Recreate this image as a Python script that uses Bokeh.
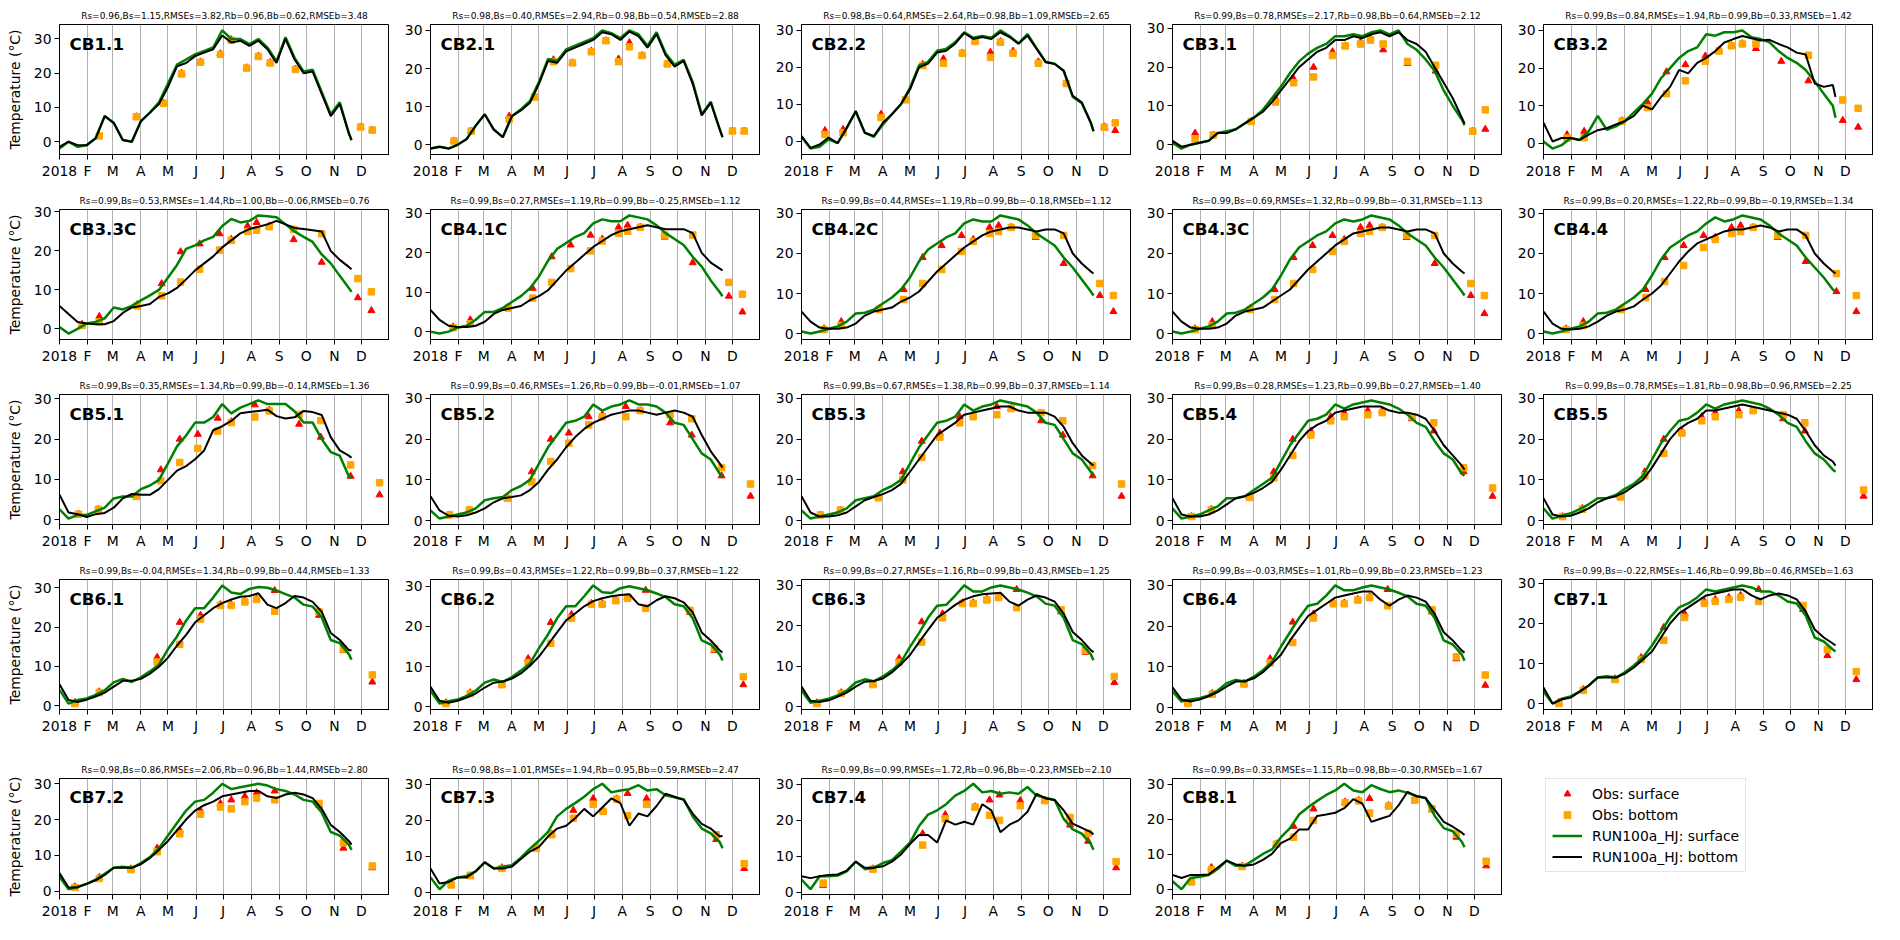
import math
from bokeh.plotting import figure
from bokeh.layouts import column, row
from bokeh.models import FixedTicker, Label, Legend, LegendItem, ColumnDataSource, Range1d, AllLabels
from bokeh.embed import file_html
from bokeh.resources import INLINE

nan = float("nan")

# model output sampled every 10 days (day of year, 0 = 1 Jan 2018)
DAYS = list(range(0, 330, 10)) + [323]
MONTH_STARTS = [0, 31, 59, 90, 120, 151, 181, 212, 243, 273, 304, 334]
MONTH_LABELS = ["2018", "F", "M", "A", "M", "J", "J", "A", "S", "O", "N", "D"]

CB1_1_SURF = [-2, 0, -1.5, -1, 1, 7.5, 5.5, 0.5, 0, 6, 8.5, 11.5, 17, 22.5, 24, 25.5, 26.5, 27.5, 32.5, 30, 30, 28.5, 30, 27.5, 23.5, 30.5, 24.5, 20.5, 21, 14.5, 8, 11.5, 2.5, 0.5]
CB1_1_BOT = [-1.5, 0, -1, -1, 1, 7.5, 5.5, 0.5, 0, 6, 8.5, 11, 16, 22, 23, 25, 26, 27, 31, 29, 29.5, 28, 29.5, 27, 23, 30, 24, 20, 20.5, 14, 7.5, 11, 2.5, 0.5]
CB1_1_OBS_DAYS = [44, 85, 115, 135, 156, 178, 190, 207, 220, 233, 261, 333, 346]
CB1_1_OBS_SURF = [1.7, 7.3, 11.3, 20, 23.3, 25.7, 29.8, 21.6, 25, 23.2, 21.2, 4.3, 3.4]
CB1_1_OBS_BOT = [1.7, 7.3, 11.2, 19.8, 23.2, 25.5, 29.6, 21.5, 24.9, 23, 21.1, 4.3, 3.4]

CB2_1_SURF = [-1, -0.5, -1, 0, 1.5, 5, 8, 4, 2, 7.5, 9.3, 11.5, 16.5, 22.5, 22, 25, 26, 27, 28, 30, 29.3, 28, 30, 29, 26, 29.5, 24, 21, 22.3, 16.5, 8, 11.3, 4, 2]
CB2_1_BOT = [-1, -0.5, -1, 0, 1.5, 5, 8, 4, 2, 7.5, 9, 11, 16, 22, 21.5, 24.5, 25.5, 26.5, 27.5, 29.5, 29, 27.5, 29.7, 28.5, 25.5, 29, 23.5, 20.5, 22, 16, 7.7, 11, 4, 2]
CB2_1_OBS_DAYS = [26, 45, 87, 115, 136, 157, 178, 194, 208, 220, 234, 262, 334, 347]
CB2_1_OBS_SURF = [1, 3.6, 7.5, 12.5, 22.3, 21.5, 24.6, 27.3, 22.5, 26.8, 23.4, 21.2, 3.6, 3.6]
CB2_1_OBS_BOT = [1, 3.6, 6.6, 12.5, 21.8, 21.5, 24.4, 27.3, 21.8, 25.7, 23.4, 21.2, 3.6, 3.6]

CB2_2_SURF = [1.2, -2, -1.5, 0.5, -0.5, 3.6, 8, 2.3, 1.2, 4.5, 7.3, 10, 14.5, 20.5, 21.5, 24.5, 25, 26.8, 29.5, 28, 28.5, 28, 30, 28.5, 26.5, 29, 25.2, 21.5, 21, 19, 12, 10.3, 5, 2.7]
CB2_2_BOT = [1.4, -1.8, -0.9, 1, -0.5, 3.6, 8.2, 2.3, 1.4, 5, 7.3, 10, 14, 20, 21, 24, 24.5, 26.4, 29.3, 27.7, 28.2, 27.7, 29.5, 28.2, 26.4, 28.6, 25, 21.4, 20.9, 19.1, 12.3, 10.5, 5, 2.7]
CB2_2_OBS_DAYS = [26, 46, 88, 115, 134, 157, 178, 192, 209, 220, 234, 262, 293, 335, 347]
CB2_2_OBS_SURF = [2.9, 3.2, 7.3, 11.4, 20.8, 22.3, 23.9, 27.1, 24.1, 27, 24.4, 21.5, 15.8, 3.9, 2.9]
CB2_2_OBS_BOT = [1.8, 2.3, 6.4, 11.2, 20.5, 21.1, 23.8, 27, 22.7, 26.8, 23.8, 21.1, 15.6, 3.8, 5]

CB3_1_SURF = [0.5, -1, 0, 0.5, 1, 3, 3.5, 4, 5.5, 7, 9, 12, 15, 18.5, 21.5, 23.5, 25, 26, 28, 28, 28.5, 28, 29, 29.5, 28.5, 29.5, 26, 24.5, 22, 19, 14, 10, 6.5, 5]
CB3_1_BOT = [1, -0.5, 0, 0.5, 1, 3, 3, 4, 5.5, 7, 8.5, 11, 14, 17, 20, 22, 24, 25, 27, 27, 28, 27.5, 28.5, 29, 28, 29, 27, 26, 24, 20, 16, 12, 7, 5.5]
CB3_1_OBS_DAYS = [25, 45, 87, 114, 134, 156, 177, 191, 208, 219, 233, 260, 291, 332, 346]
CB3_1_OBS_SURF = [3, 2.5, 6, 12, 17, 20, 24, 25.5, 26.5, 27.5, 24.5, 21, 19, 3.5, 4]
CB3_1_OBS_BOT = [1.5, 2.5, 6, 11, 16, 17.5, 23, 25.5, 26, 27, 26, 21.5, 20.5, 3.5, 9]

CB3_2_SURF = [0.5, -1.4, -0.5, 1.4, 0.9, 3.2, 7.3, 3.6, 4.5, 5.9, 8.2, 10.5, 13.2, 17.3, 20, 22.7, 24.5, 25.5, 29, 28.6, 29.5, 29.5, 30, 28.2, 27.7, 26.8, 24.5, 22.7, 21.4, 19.5, 16.4, 13.2, 10, 6.8]
CB3_2_BOT = [5.5, 0.5, 1.4, 1.4, 0.9, 2.3, 3.5, 4, 5, 5.9, 7.3, 10, 9, 12.3, 15, 19.5, 18.6, 21.4, 22.7, 24.5, 26.8, 27.7, 28.5, 27.9, 27.3, 27.5, 26.4, 25.5, 24.1, 23.6, 15.9, 15, 15.5, 12.3]
CB3_2_OBS_DAYS = [26, 45, 87, 115, 136, 157, 179, 194, 208, 220, 235, 263, 293, 331, 348]
CB3_2_OBS_SURF = [2.3, 3.2, 6, 10.9, 19, 20.9, 23.2, 24.7, 26, 26.5, 25.2, 21.8, 16.6, 6.1, 4.3]
CB3_2_OBS_BOT = [1.4, 1.5, 5.9, 9.5, 13.2, 16.6, 21.8, 24.5, 25.9, 26.4, 26.4, nan, 23.4, 11.5, 9.3]

CB3_3C_SURF = [0.5, -1.2, 0, 1.4, 1.8, 2.7, 5.5, 5, 5.9, 7.3, 8.6, 10, 13.2, 16.4, 20.5, 21.4, 22.7, 23.6, 26.4, 28.2, 27.3, 27.7, 29.1, 28.9, 28.6, 26.8, 25, 23.6, 22.3, 19.1, 16.8, 13.6, 10.5, 9.5]
CB3_3C_BOT = [5.9, 3.8, 1.8, 1.4, 1.2, 1.2, 2, 4.1, 5.5, 5.9, 6.4, 8.2, 9.1, 10.5, 12.7, 15, 16.8, 18.6, 20.9, 22.7, 24.5, 25.6, 26.2, 26.8, 27.7, 26.8, 25.9, 25.6, 25.3, 25, 20, 17.7, 15.9, 15.3]
CB3_3C_OBS_DAYS = [25, 44, 86, 113, 134, 155, 177, 190, 208, 218, 232, 259, 290, 330, 345]
CB3_3C_OBS_SURF = [1.2, 3.2, 6.2, 11.6, 19.8, 21.8, 24.4, 23, 26.4, 27.3, 26.4, 22.9, 17.1, 8, 4.7]
CB3_3C_OBS_BOT = [0.9, 1.8, 5.9, 8.5, 12, 15.3, 20.2, 22.7, 25, 25.3, 26.2, 25.5, 24.4, 12.9, 9.5]

CB4_1C_SURF = [0, -0.5, 0, 1, 1.5, 3, 5, 5, 6, 7.5, 9, 11, 14, 18, 21, 22.5, 24, 25, 27.5, 28.5, 28, 28, 29.5, 29, 28.5, 27, 25, 23.5, 22, 19, 16.5, 13, 10, 9]
CB4_1C_BOT = [5.5, 3, 1.5, 1.2, 1.2, 1.5, 2.5, 4.5, 5.5, 6, 6.5, 8, 9, 10.5, 13, 15.5, 17.5, 19.5, 21.5, 23, 24.5, 25.5, 26, 26.5, 27, 26.5, 26, 26, 26, 25, 20, 17.5, 16, 15.5]
CB4_1C_OBS_DAYS = [25, 44, 86, 113, 134, 155, 177, 190, 208, 218, 232, 259, 290, 330, 345]
CB4_1C_OBS_SURF = [1.2, 3, 6.2, 11, 19, 22, 24.5, 23.5, 26.5, 27, 26.5, 24, 17.5, 9, 5]
CB4_1C_OBS_BOT = [1, 2, 6, 8.5, 12.5, 16, 20.5, 23, 25, 25.5, 26.5, 24.5, 24.5, 12.5, 9.5]

CB4_2C_SURF = [0.5, 0, 0.5, 1.2, 1.8, 3, 5, 5.2, 6, 7.5, 9, 11, 14, 18, 21, 22.5, 24, 25, 27.5, 28.5, 28, 28, 29.5, 29, 28.5, 27, 25, 23.5, 22, 19, 16.5, 13.5, 10.5, 9.5]
CB4_2C_BOT = [5.5, 3, 1.5, 1.2, 1.2, 1.5, 2.5, 4.5, 5.5, 6, 6.5, 8, 9, 10.5, 13, 15.5, 17.5, 19.5, 21.5, 23, 24.5, 25.5, 26, 26.5, 26.5, 26, 25.5, 26, 26, 25, 20, 17.5, 15.5, 15]
CB4_2C_OBS_DAYS = [25, 44, 86, 113, 134, 155, 177, 190, 208, 218, 232, 259, 290, 330, 345]
CB4_2C_OBS_SURF = [1.2, 3, 6.2, 11, 19, 22, 24.5, 23.5, 26.5, 27, 26.5, 24, 17.5, 9.5, 5.5]
CB4_2C_OBS_BOT = [1, 2, 6, 8.5, 12.5, 16, 20.5, 23, 25, 25.5, 26.5, 24.5, 24.5, 12.5, 9.5]

CB4_3C_SURF = [0.5, 0, 0.5, 1.2, 1.8, 3, 5, 5.2, 6, 7.5, 9, 11, 14.5, 18.5, 21.5, 23, 24.5, 25.5, 27.5, 28.5, 28, 28.5, 29.5, 29, 28.5, 27, 25, 23.5, 22, 19, 16.5, 13.5, 10.5, 9.5]
CB4_3C_BOT = [5.5, 3, 1.5, 1.2, 1.2, 1.5, 2.5, 4.5, 5.5, 6, 6.5, 8, 9.5, 11, 13.5, 16, 18, 20, 22, 23.5, 25, 25.5, 26, 26.5, 26.5, 26, 25.5, 26, 26, 25, 20, 17.5, 15.5, 15]
CB4_3C_OBS_DAYS = [25, 44, 86, 113, 134, 155, 177, 190, 208, 218, 232, 259, 290, 330, 345]
CB4_3C_OBS_SURF = [1.2, 3, 6.2, 11, 19, 22, 24.5, 23.5, 26.5, 27, 26.5, 24, 17.5, 9.5, 5]
CB4_3C_OBS_BOT = [1, 2, 6, 8.5, 12.5, 16, 20.5, 23, 25, 25.5, 26.5, 24.5, 24.5, 12.5, 9.5]

CB4_4_SURF = [0.5, 0, 0.5, 1.2, 1.8, 3, 5, 5.2, 6, 7.5, 9, 11, 14.5, 18.5, 21.5, 23, 24.5, 25.5, 27.5, 29, 28, 28.5, 29.5, 29, 28.5, 27, 25, 23.5, 22, 19, 16.5, 14, 11, 10.5]
CB4_4_BOT = [5.5, 2.5, 1.2, 1, 1.2, 1.8, 3, 4.5, 5.5, 6, 6.8, 8.5, 10, 12, 15, 18, 20.5, 22.5, 23.5, 24.5, 25.5, 26, 26, 26.5, 27, 26.5, 25.5, 26, 26, 24.5, 20, 17.5, 15.5, 15]
CB4_4_OBS_DAYS = [25, 44, 86, 113, 134, 155, 177, 190, 208, 218, 232, 259, 290, 324, 346]
CB4_4_OBS_SURF = [1.2, 3, 6.2, 11, 19, 22, 24.5, 24, 26.5, 27, 26.5, 24, 18, 10.5, 5.5]
CB4_4_OBS_BOT = [1, 2, 6, 9, 13, 17, 21.5, 23.5, 25, 25.5, 26.5, 24.5, 24.5, 15, 9.5]

CB5_1_SURF = [2.6, 0.3, 1.2, 1.2, 2.1, 3, 5.3, 5.8, 5.8, 7.6, 8.5, 9.9, 14, 18.2, 20.9, 24.1, 24.1, 25.5, 28.7, 26.4, 27.8, 28.7, 29.6, 28.7, 28.7, 28.7, 26.9, 24.1, 24.1, 20, 16.8, 15.9, 10.8, 10.4]
CB5_1_BOT = [6.2, 1.8, 1.4, 0.7, 1.4, 1.7, 3, 5.3, 6.4, 6.2, 6.2, 7.6, 9.9, 12.2, 13.3, 15, 17.2, 22.2, 23.2, 24.5, 26.4, 26.7, 27, 27.3, 25.7, 25.1, 25.4, 27, 26.7, 26, 20.5, 17.2, 15.9, 15.4]
CB5_1_OBS_DAYS = [21, 43, 85, 112, 133, 153, 175, 190, 216, 232, 265, 289, 322, 354]
CB5_1_OBS_SURF = [1.4, 2.6, 5.9, 12.4, 20, 21.2, 25.2, 24.3, 28.5, 27.2, 23.7, 20.5, 10.8, 6.2]
CB5_1_OBS_BOT = [1.4, 2.6, 5.8, 9.7, 14.2, 17.7, 22, 24.1, 25.5, 27, 26.1, 24.6, 13.6, 9.2]

CB5_2_SURF = [2.5, 0.5, 1, 1.5, 2, 3, 5, 5.5, 5.8, 7.5, 8.5, 10, 14, 18, 21, 24, 24.5, 25.5, 28.5, 27, 28, 28.5, 29.5, 28.5, 28.5, 28, 26.5, 24, 23.5, 20, 16.5, 15, 11.5, 10.5]
CB5_2_BOT = [6, 2.5, 1.2, 1, 1.3, 2, 3, 4.5, 5.5, 5.8, 6.2, 7.5, 9.5, 12.5, 15, 18, 20.5, 22.5, 24, 25, 26, 26.5, 27, 27, 26.5, 26, 26.5, 27, 26.5, 25.5, 21, 17, 14, 13]
CB5_2_OBS_DAYS = [21, 43, 85, 112, 133, 153, 175, 190, 216, 232, 265, 289, 322, 354]
CB5_2_OBS_SURF = [1.4, 2.6, 5.6, 12, 20, 21.5, 25.5, 26, 28, 27, 24, 21, 11, 6]
CB5_2_OBS_BOT = [1.4, 2.6, 5.5, 9.5, 14.5, 19, 23.5, 25.5, 25.5, 27, 26, 25, 13, 9]

CB5_3_SURF = [2.5, 0.5, 1, 1.5, 2, 3, 5, 5.5, 6, 7.5, 8.5, 10, 14, 18, 21, 24, 24.5, 25.5, 28.5, 27, 28, 28.5, 29.5, 29, 28.5, 28, 26.5, 24, 23.5, 20, 16.5, 15, 12, 11]
CB5_3_BOT = [6, 2, 1, 1, 1.3, 2, 3.5, 5, 5.8, 6.5, 7.5, 9, 12, 15, 18, 21, 22.5, 24, 26, 26.5, 27, 27.5, 28, 28, 27, 26.5, 26.5, 26.5, 25.5, 23, 19, 16, 14, 13.5]
CB5_3_OBS_DAYS = [21, 43, 85, 112, 133, 153, 175, 190, 216, 232, 265, 289, 322, 354]
CB5_3_OBS_SURF = [1.4, 2.6, 5.8, 12, 19.5, 21.5, 25.5, 26, 28, 27.5, 24.5, 21, 11, 6]
CB5_3_OBS_BOT = [1.4, 2.6, 5.6, 10, 15.5, 20.5, 24, 25.5, 26, 27.5, 26.5, 24.5, 13.5, 9]

CB5_4_SURF = [3, 0.5, 1, 1.5, 2.5, 3.5, 5.5, 5.5, 6, 7.5, 9, 10.5, 14.5, 18.5, 21.5, 24.5, 25, 26, 28.5, 27.5, 28.5, 29, 29.5, 29, 28.5, 27.5, 26, 24, 23, 19.5, 16.5, 15, 11.5, 11]
CB5_4_BOT = [5.5, 1.5, 1, 1, 1.5, 2.5, 4, 5.5, 6, 6.8, 8, 9.5, 12.5, 16, 19.5, 22, 23.5, 24.5, 26.5, 27, 27.5, 28, 28, 28, 27, 26.5, 26.5, 26, 25, 22, 18.5, 16, 13.5, 12.5]
CB5_4_OBS_DAYS = [21, 43, 85, 112, 133, 153, 175, 190, 216, 232, 265, 289, 322, 354]
CB5_4_OBS_SURF = [1, 2.8, 5.9, 12, 20, 22, 25.5, 26.5, 27, 27, 25, 22, 12, 6]
CB5_4_OBS_BOT = [1, 2.6, 5.7, 10.5, 16, 21, 24.5, 25.5, 26, 26.5, 25.5, 24, 13, 8]

CB5_5_SURF = [3, 0.5, 1.2, 1.8, 2.8, 4, 5.5, 5.5, 6.3, 7.8, 9, 11, 15, 19, 22, 24.5, 25, 26.5, 28.5, 27.5, 28.5, 29, 29.5, 29, 28.5, 27.5, 26, 24, 23, 19.5, 16.5, 15, 12.5, 12]
CB5_5_BOT = [5.5, 1.5, 1, 1.2, 2, 3, 4.5, 5.5, 6, 7, 8.5, 10, 13, 16.5, 20, 22.5, 24, 25, 27, 27, 27.5, 28, 28.5, 28, 27.5, 27, 26.5, 26, 25, 22, 18.5, 16, 14.5, 13.5]
CB5_5_OBS_DAYS = [21, 43, 85, 112, 133, 153, 175, 190, 216, 232, 265, 289, 354]
CB5_5_OBS_SURF = [1, 3, 6, 12, 20, 22, 25.5, 26.5, 27, 27, 25, 22, 6]
CB5_5_OBS_BOT = [1, 2.8, 5.8, 11, 16.5, 21.5, 24.5, 25.5, 26, 27, 26, 24, 7.5]

CB6_1_SURF = [4, 0.5, 1.4, 1.8, 2.7, 3.9, 5.9, 6.8, 6, 7.2, 8.7, 10.4, 14.4, 17.6, 21.6, 24.8, 24.8, 27.5, 30.6, 28.8, 28.4, 29.7, 30.2, 30, 29.3, 28.4, 27.5, 25.7, 25.2, 22.5, 16.7, 15.9, 13.1, 11.7]
CB6_1_BOT = [5.4, 1.4, 0.9, 1.5, 2.3, 3.3, 4.8, 6.3, 6.3, 6.8, 8.1, 9.9, 12.2, 15.3, 18, 21.2, 23, 24.8, 26.1, 27, 27.7, 27.9, 28.6, 25.7, 24.8, 26.1, 27.9, 27.5, 26.4, 23.9, 18.5, 16.7, 14.1, 14.1]
CB6_1_OBS_DAYS = [17, 44, 108, 133, 156, 178, 190, 205, 218, 238, 287, 314, 346]
CB6_1_OBS_SURF = [0.8, 3.5, 12.3, 21.2, 23, 25.7, 25.7, 26.6, 27.2, 29.3, 23, 14, 6]
CB6_1_OBS_BOT = [0.5, 3.3, 11.1, 15.6, 22, 25.5, 25.5, 26.4, 27, 24, 23.9, 14.4, 7.8]

CB6_2_SURF = [4, 0.8, 1.4, 1.8, 2.7, 4, 6, 6.8, 6.2, 7.4, 9, 10.8, 14.6, 18, 22, 25, 25, 27.5, 30.2, 28.5, 28.3, 29.5, 30, 29.5, 29, 28.2, 27.3, 25.5, 25, 22, 16.5, 15.5, 13, 11.5]
CB6_2_BOT = [5, 1.5, 1, 1.5, 2.3, 3.3, 4.8, 6, 6.3, 7, 8.3, 10.2, 12.5, 15.5, 18.5, 21.5, 23.2, 25, 26.3, 27, 27.5, 27.8, 28, 25.5, 25, 26.5, 27.5, 27, 26, 23.5, 18.5, 16.5, 14, 13.5]
CB6_2_OBS_DAYS = [17, 44, 79, 108, 133, 156, 178, 190, 205, 218, 238, 287, 314, 346]
CB6_2_OBS_SURF = [1, 3.5, 5.6, 12, 21, 23, 25.7, 25.7, 26.6, 27.2, 29, 23.5, 14, 5.5]
CB6_2_OBS_BOT = [0.8, 3.3, 5.5, 11, 15.8, 22, 25.5, 25.5, 26.4, 27, 24.5, 24, 14.5, 7.5]

CB6_3_SURF = [4, 1, 1.5, 2, 2.8, 4, 6, 6.8, 6.3, 7.5, 9, 11, 14.8, 18.2, 22, 25, 25.2, 27.5, 30, 28.5, 28.5, 29.5, 30, 29.5, 29, 28.2, 27.3, 25.5, 25, 22, 16.5, 15.5, 13, 11.5]
CB6_3_BOT = [5, 1.5, 1.2, 1.6, 2.5, 3.5, 5, 6.2, 6.4, 7, 8.5, 10.5, 12.8, 16, 19, 22, 23.5, 25.2, 26.5, 27.3, 27.8, 28, 28.2, 26, 25, 26.5, 27.5, 27, 26, 23, 18.5, 16.5, 14, 13.5]
CB6_3_OBS_DAYS = [17, 44, 79, 108, 133, 156, 178, 190, 205, 218, 238, 287, 314, 346]
CB6_3_OBS_SURF = [1, 3.5, 5.6, 12, 21, 23, 25.7, 25.7, 26.6, 27.2, 29, 23.5, 13.5, 6]
CB6_3_OBS_BOT = [0.8, 3.3, 5.5, 11, 16, 22, 25.5, 25.5, 26.4, 27, 24.5, 24, 14, 7.5]

CB6_4_SURF = [4, 1.5, 2, 2.3, 3, 4.2, 6, 6.8, 6.4, 7.6, 9.2, 11.2, 15, 18.5, 22, 25, 25.5, 27.5, 30, 28.8, 28.8, 29.5, 30, 29.5, 29, 28.2, 27.3, 25.5, 25, 22, 16.5, 15.5, 13, 11.5]
CB6_4_BOT = [5, 2, 1.5, 2, 2.8, 3.8, 5.2, 6.4, 6.5, 7.2, 8.7, 10.8, 13, 16.5, 19.5, 22.5, 24, 25.5, 27, 27.5, 28, 28.5, 28.5, 26.5, 25, 26.5, 27.5, 27, 26, 23, 18.5, 16.5, 14, 13.5]
CB6_4_OBS_DAYS = [17, 44, 79, 108, 133, 156, 178, 190, 205, 218, 238, 287, 314, 346]
CB6_4_OBS_SURF = [1.2, 3.5, 6, 12, 21, 23, 25.7, 25.7, 26.6, 27.2, 29, 23.5, 12, 5.5]
CB6_4_OBS_BOT = [1, 3.3, 5.8, 11, 16, 22, 25.5, 25.5, 26.4, 27, 25, 24, 12.5, 8]

CB7_1_SURF = [3, 0, 1.2, 1.8, 3, 4.5, 6.5, 6.8, 6.5, 7.8, 9.5, 11.5, 14.5, 18, 21.5, 24, 25, 26.5, 28.5, 28, 28.5, 29, 29.5, 29, 28, 28, 27, 25.5, 25, 22, 16.5, 15.5, 13.5, 13]
CB7_1_BOT = [4, 0, 1, 1.5, 3, 4.5, 6.5, 6.5, 6.5, 7.5, 9, 11, 13, 16.5, 20, 22.5, 24, 25.5, 27, 27.5, 28, 28.5, 28.5, 27, 26, 27, 27.5, 27, 26, 23, 18.5, 16.5, 15, 14.5]
CB7_1_OBS_DAYS = [17, 44, 79, 108, 133, 156, 178, 190, 205, 218, 238, 287, 314, 346]
CB7_1_OBS_SURF = [0.3, 3.5, 6.2, 11.5, 19, 22.5, 25.5, 26, 26.5, 27, 28.5, 23.5, 12, 6]
CB7_1_OBS_BOT = [0, 3.3, 6, 11, 15.8, 21.5, 25, 25.5, 26, 26.5, 25.5, 24.5, 13.5, 8]

CB7_2_SURF = [4, 0.5, 1.2, 2, 3.2, 4.8, 6.5, 6.8, 6.5, 7.8, 9.5, 12, 15.5, 19, 22.5, 25, 25.5, 27.5, 30, 28.5, 29, 29.5, 30, 29.5, 28.5, 28, 27, 25.5, 25, 22, 16.5, 15.5, 13, 11.5]
CB7_2_BOT = [5, 1, 1, 2, 3, 4.5, 6.5, 6.5, 6.5, 7.5, 9.2, 11.5, 14, 17, 20, 22.5, 24, 25, 26.5, 27, 27.5, 28, 28, 26.5, 26, 27, 27.5, 27, 26, 23, 18.5, 16.5, 14, 13]
CB7_2_OBS_DAYS = [17, 44, 79, 108, 133, 156, 178, 190, 205, 218, 238, 287, 314, 346]
CB7_2_OBS_SURF = [1.2, 3.8, 6.2, 12, 17, 22.5, 24.5, 25.5, 26.5, 27.5, 28, 24, 12, 6.5]
CB7_2_OBS_BOT = [1, 3.5, 6, 11, 16, 21.5, 23.5, 23, 25, 26, 25.5, 24.5, 13.5, 7]

CB7_3_SURF = [4.1, 0.8, 3.2, 4.1, 4.5, 5.8, 8.3, 6.6, 7.1, 7.5, 9.6, 12.1, 14.3, 16.8, 21.1, 23.2, 24.8, 26.6, 28.7, 30.2, 27.8, 28.3, 28.7, 29.8, 28.3, 28.7, 27, 26.4, 25.9, 21.1, 17.7, 16.4, 13.9, 12.2]
CB7_3_BOT = [6.6, 2.4, 2.8, 4.1, 4.1, 5.8, 8.3, 6.6, 6.6, 7.1, 9.2, 11.3, 12.6, 15.5, 17.7, 18.5, 20.6, 23.2, 21.1, 23.6, 26.1, 24.8, 18.5, 21.9, 21.1, 24, 27.4, 26.6, 25.7, 21.9, 19, 17.7, 15.5, 15.7]
CB7_3_OBS_DAYS = [23, 44, 79, 117, 134, 158, 180, 191, 206, 218, 239, 316, 347]
CB7_3_OBS_SURF = [2.2, 4.3, 6.8, 12.4, 16.2, 22.8, 26.1, 22.7, 26, 27.5, 26.1, 14.7, 6.6]
CB7_3_OBS_BOT = [2, 4.7, 6.6, 12.2, 16, 20.6, 24.5, 22.5, 25.9, 21.3, 24.5, 16, 7.9]

CB7_4_SURF = [3.5, 0.8, 4.4, 4.4, 4.6, 5.8, 8.5, 6.4, 6.8, 8.1, 8.9, 11.3, 13.8, 18.4, 21.6, 22.8, 24.5, 26.9, 28.2, 30.2, 27.8, 28.2, 27.4, 27.8, 27.4, 29.3, 26.9, 26.3, 25.7, 20.4, 17.5, 16.3, 13.4, 11.8]
CB7_4_BOT = [4.4, 3.9, 4.4, 4.8, 4.9, 6, 8.5, 6.8, 6.8, 7.2, 8.5, 10.5, 13.4, 15.9, 15.9, 13.8, 20, 18.8, 19.6, 18.8, 24.5, 22.8, 16.7, 18.8, 20, 22.4, 27.4, 26.1, 25.7, 22.8, 19.1, 17.9, 16.7, 16.1]
CB7_4_OBS_DAYS = [24, 79, 134, 159, 192, 208, 219, 242, 269, 297, 317, 348]
CB7_4_OBS_SURF = [1.9, 6.5, 16.3, 21.6, 23.8, 25.7, 27.1, 25.5, 25.6, 18.7, 14.2, 6.8]
CB7_4_OBS_BOT = [2.5, 6.4, 13.1, 20.4, 23.7, 21.4, 20, 24.1, 25.5, 20.8, 16.4, 8.5]

CB8_1_SURF = [2.3, 0, 3.2, 3.6, 4.1, 5.8, 8.2, 6.7, 6.8, 8.4, 10.1, 11.4, 14.9, 17.5, 21.4, 23.5, 25.3, 27, 28.3, 30.2, 28.3, 27.8, 29.8, 28.7, 27.8, 28.3, 27.6, 26.7, 26.1, 21, 17.5, 16.6, 13.6, 12]
CB8_1_BOT = [4.1, 3.2, 4.1, 4.1, 4.2, 6.2, 8.2, 7.1, 6.7, 7.1, 8.4, 10.1, 13.2, 14.5, 17.1, 17.1, 21, 21.4, 21.9, 23.2, 25.8, 24.5, 19.3, 20.2, 21, 24, 27.9, 26.6, 26.1, 22.7, 19.3, 17.9, 16.2, 15.5]
CB8_1_OBS_DAYS = [21, 43, 77, 115, 134, 156, 191, 206, 218, 239, 268, 287, 314, 347]
CB8_1_OBS_SURF = [2.3, 6.2, 6.6, 13, 18, 23, 25, 25.5, 26, 24, 25.6, 22.7, 14.9, 6.7]
CB8_1_OBS_BOT = [2.1, 5.6, 6.5, 12.9, 14.9, 19.7, 24.8, 25.3, 21.8, 23.8, 25.5, 23.1, 15.8, 8]

STATION_NAMES = ["CB1.1", "CB2.1", "CB2.2", "CB3.1", "CB3.2",
                 "CB3.3C", "CB4.1C", "CB4.2C", "CB4.3C", "CB4.4",
                 "CB5.1", "CB5.2", "CB5.3", "CB5.4", "CB5.5",
                 "CB6.1", "CB6.2", "CB6.3", "CB6.4", "CB7.1",
                 "CB7.2", "CB7.3", "CB7.4", "CB8.1"]
STATS = [
    "Rs=0.96,Bs=1.15,RMSEs=3.82,Rb=0.96,Bb=0.62,RMSEb=3.48",
    "Rs=0.98,Bs=0.40,RMSEs=2.94,Rb=0.98,Bb=0.54,RMSEb=2.88",
    "Rs=0.98,Bs=0.64,RMSEs=2.64,Rb=0.98,Bb=1.09,RMSEb=2.65",
    "Rs=0.99,Bs=0.78,RMSEs=2.17,Rb=0.98,Bb=0.64,RMSEb=2.12",
    "Rs=0.99,Bs=0.84,RMSEs=1.94,Rb=0.99,Bb=0.33,RMSEb=1.42",
    "Rs=0.99,Bs=0.53,RMSEs=1.44,Rb=1.00,Bb=-0.06,RMSEb=0.76",
    "Rs=0.99,Bs=0.27,RMSEs=1.19,Rb=0.99,Bb=-0.25,RMSEb=1.12",
    "Rs=0.99,Bs=0.44,RMSEs=1.19,Rb=0.99,Bb=-0.18,RMSEb=1.12",
    "Rs=0.99,Bs=0.69,RMSEs=1.32,Rb=0.99,Bb=-0.31,RMSEb=1.13",
    "Rs=0.99,Bs=0.20,RMSEs=1.22,Rb=0.99,Bb=-0.19,RMSEb=1.34",
    "Rs=0.99,Bs=0.35,RMSEs=1.34,Rb=0.99,Bb=-0.14,RMSEb=1.36",
    "Rs=0.99,Bs=0.46,RMSEs=1.26,Rb=0.99,Bb=-0.01,RMSEb=1.07",
    "Rs=0.99,Bs=0.67,RMSEs=1.38,Rb=0.99,Bb=0.37,RMSEb=1.14",
    "Rs=0.99,Bs=0.28,RMSEs=1.23,Rb=0.99,Bb=0.27,RMSEb=1.40",
    "Rs=0.99,Bs=0.78,RMSEs=1.81,Rb=0.98,Bb=0.96,RMSEb=2.25",
    "Rs=0.99,Bs=-0.04,RMSEs=1.34,Rb=0.99,Bb=0.44,RMSEb=1.33",
    "Rs=0.99,Bs=0.43,RMSEs=1.22,Rb=0.99,Bb=0.37,RMSEb=1.22",
    "Rs=0.99,Bs=0.27,RMSEs=1.16,Rb=0.99,Bb=0.43,RMSEb=1.25",
    "Rs=0.99,Bs=-0.03,RMSEs=1.01,Rb=0.99,Bb=0.23,RMSEb=1.23",
    "Rs=0.99,Bs=-0.22,RMSEs=1.46,Rb=0.99,Bb=0.46,RMSEb=1.63",
    "Rs=0.98,Bs=0.86,RMSEs=2.06,Rb=0.96,Bb=1.44,RMSEb=2.80",
    "Rs=0.98,Bs=1.01,RMSEs=1.94,Rb=0.95,Bb=0.59,RMSEb=2.47",
    "Rs=0.99,Bs=0.99,RMSEs=1.72,Rb=0.96,Bb=-0.23,RMSEb=2.10",
    "Rs=0.99,Bs=0.33,RMSEs=1.15,Rb=0.98,Bb=-0.30,RMSEb=1.67",
]

SERIES = [
    (CB1_1_SURF, CB1_1_BOT, CB1_1_OBS_DAYS, CB1_1_OBS_SURF, CB1_1_OBS_BOT),
    (CB2_1_SURF, CB2_1_BOT, CB2_1_OBS_DAYS, CB2_1_OBS_SURF, CB2_1_OBS_BOT),
    (CB2_2_SURF, CB2_2_BOT, CB2_2_OBS_DAYS, CB2_2_OBS_SURF, CB2_2_OBS_BOT),
    (CB3_1_SURF, CB3_1_BOT, CB3_1_OBS_DAYS, CB3_1_OBS_SURF, CB3_1_OBS_BOT),
    (CB3_2_SURF, CB3_2_BOT, CB3_2_OBS_DAYS, CB3_2_OBS_SURF, CB3_2_OBS_BOT),
    (CB3_3C_SURF, CB3_3C_BOT, CB3_3C_OBS_DAYS, CB3_3C_OBS_SURF, CB3_3C_OBS_BOT),
    (CB4_1C_SURF, CB4_1C_BOT, CB4_1C_OBS_DAYS, CB4_1C_OBS_SURF, CB4_1C_OBS_BOT),
    (CB4_2C_SURF, CB4_2C_BOT, CB4_2C_OBS_DAYS, CB4_2C_OBS_SURF, CB4_2C_OBS_BOT),
    (CB4_3C_SURF, CB4_3C_BOT, CB4_3C_OBS_DAYS, CB4_3C_OBS_SURF, CB4_3C_OBS_BOT),
    (CB4_4_SURF, CB4_4_BOT, CB4_4_OBS_DAYS, CB4_4_OBS_SURF, CB4_4_OBS_BOT),
    (CB5_1_SURF, CB5_1_BOT, CB5_1_OBS_DAYS, CB5_1_OBS_SURF, CB5_1_OBS_BOT),
    (CB5_2_SURF, CB5_2_BOT, CB5_2_OBS_DAYS, CB5_2_OBS_SURF, CB5_2_OBS_BOT),
    (CB5_3_SURF, CB5_3_BOT, CB5_3_OBS_DAYS, CB5_3_OBS_SURF, CB5_3_OBS_BOT),
    (CB5_4_SURF, CB5_4_BOT, CB5_4_OBS_DAYS, CB5_4_OBS_SURF, CB5_4_OBS_BOT),
    (CB5_5_SURF, CB5_5_BOT, CB5_5_OBS_DAYS, CB5_5_OBS_SURF, CB5_5_OBS_BOT),
    (CB6_1_SURF, CB6_1_BOT, CB6_1_OBS_DAYS, CB6_1_OBS_SURF, CB6_1_OBS_BOT),
    (CB6_2_SURF, CB6_2_BOT, CB6_2_OBS_DAYS, CB6_2_OBS_SURF, CB6_2_OBS_BOT),
    (CB6_3_SURF, CB6_3_BOT, CB6_3_OBS_DAYS, CB6_3_OBS_SURF, CB6_3_OBS_BOT),
    (CB6_4_SURF, CB6_4_BOT, CB6_4_OBS_DAYS, CB6_4_OBS_SURF, CB6_4_OBS_BOT),
    (CB7_1_SURF, CB7_1_BOT, CB7_1_OBS_DAYS, CB7_1_OBS_SURF, CB7_1_OBS_BOT),
    (CB7_2_SURF, CB7_2_BOT, CB7_2_OBS_DAYS, CB7_2_OBS_SURF, CB7_2_OBS_BOT),
    (CB7_3_SURF, CB7_3_BOT, CB7_3_OBS_DAYS, CB7_3_OBS_SURF, CB7_3_OBS_BOT),
    (CB7_4_SURF, CB7_4_BOT, CB7_4_OBS_DAYS, CB7_4_OBS_SURF, CB7_4_OBS_BOT),
    (CB8_1_SURF, CB8_1_BOT, CB8_1_OBS_DAYS, CB8_1_OBS_SURF, CB8_1_OBS_BOT),
]

LEGEND_LABELS = ["Obs: surface", "Obs: bottom", "RUN100a_HJ: surface", "RUN100a_HJ: bottom"]

FONT = "DejaVu Sans"
FRAME_W, FRAME_H = 330, 130
PANEL_H = 185
TOP, BOTTOM = 24, 31


def make_panel(idx, name, stat, surf, bot, odays, osurf, obot):
    first = (idx % 5 == 0)
    left = 59 if first else 41
    vals = [v for v in list(surf) + list(bot) + list(osurf) + list(obot) if not math.isnan(v)]
    lo, hi = min(vals), max(vals)
    pad = 0.05 * (hi - lo)
    y0, y1 = lo - pad, hi + pad
    p = figure(width=left + FRAME_W, height=PANEL_H,
               x_range=Range1d(0, 365), y_range=Range1d(y0, y1),
               output_backend="svg", toolbar_location=None,
               min_border_left=left, min_border_right=0,
               min_border_top=TOP, min_border_bottom=BOTTOM)
    p.title.text = stat
    p.title.align = "center"
    p.title.text_font = FONT
    p.title.text_font_size = "9px"
    p.title.text_font_style = "normal"
    p.title.text_color = "black"
    p.title.standoff = 7

    p.xaxis.ticker = FixedTicker(ticks=MONTH_STARTS)
    p.xaxis.major_label_overrides = {m: lab for m, lab in zip(MONTH_STARTS, MONTH_LABELS)}
    p.yaxis.ticker = FixedTicker(ticks=[0, 10, 20, 30])
    for ax in (p.xaxis[0], p.yaxis[0]):
        ax.major_label_text_font = FONT
        ax.major_label_text_font_size = "13.9px"
        ax.major_label_text_color = "black"
        ax.axis_line_color = "black"
        ax.major_tick_line_color = "black"
        ax.major_tick_out = 5
        ax.major_tick_in = 0
        ax.minor_tick_line_color = None
        ax.major_label_standoff = 3
        ax.major_label_policy = AllLabels()
    if first:
        p.yaxis.axis_label = "Temperature (°C)"
        p.yaxis.axis_label_text_font = FONT
        p.yaxis.axis_label_text_font_size = "13.9px"
        p.yaxis.axis_label_text_font_style = "normal"
        p.yaxis.axis_label_text_color = "black"
        p.yaxis.axis_label_standoff = 8
    p.ygrid.visible = False
    p.xgrid.grid_line_color = "#b0b0b0"
    p.xgrid.grid_line_width = 1
    p.outline_line_color = "black"
    p.outline_line_alpha = 1
    p.outline_line_width = 1

    p.scatter(odays, osurf, marker="triangle", size=7, color="red")
    p.scatter(odays, obot, marker="square", size=6.5, color="orange")
    p.line(DAYS, surf, color="green", line_width=2.5)
    p.line(DAYS, bot, color="black", line_width=2)

    lab = Label(x=365 * 10 / FRAME_W, y=y1 - (y1 - y0) * 9 / FRAME_H, text=name,
                text_font=FONT, text_font_size="16.7px", text_font_style="bold",
                text_baseline="top", text_color="black")
    p.add_layout(lab)
    return p


panels = []
for i, (name, stat, s) in enumerate(zip(STATION_NAMES, STATS, SERIES)):
    panels.append(make_panel(i, name, stat, *s))

# legend panel in the 25th cell; frame begins where the legend box sits
LEG_LEFT, LEG_TOP = 43, 38
lp = figure(width=371, height=PANEL_H, x_range=Range1d(0, 1), y_range=Range1d(0, 1),
            output_backend="svg", toolbar_location=None,
            x_axis_type=None, y_axis_type=None,
            min_border_left=LEG_LEFT, min_border_right=0,
            min_border_top=LEG_TOP, min_border_bottom=0)
lp.outline_line_color = None
lp.xgrid.visible = False
lp.ygrid.visible = False
hidden = ColumnDataSource(data=dict(x=[-5, -4], y=[-5, -4]))
r1 = lp.scatter("x", "y", source=hidden, marker="triangle", size=7, color="red")
r2 = lp.scatter("x", "y", source=hidden, marker="square", size=6.5, color="orange")
r3 = lp.line("x", "y", source=hidden, color="green", line_width=2.5)
r4 = lp.line("x", "y", source=hidden, color="black", line_width=2)
legend = Legend(items=[LegendItem(label=LEGEND_LABELS[0], renderers=[r1]),
                       LegendItem(label=LEGEND_LABELS[1], renderers=[r2]),
                       LegendItem(label=LEGEND_LABELS[2], renderers=[r3]),
                       LegendItem(label=LEGEND_LABELS[3], renderers=[r4])],
                location="top_left")
legend.label_text_font = FONT
legend.label_text_font_size = "13.9px"
legend.label_text_color = "black"
legend.glyph_width = 30
legend.glyph_height = 17
legend.label_height = 17
legend.label_standoff = 10
legend.spacing = 4
legend.padding = 6
legend.margin = 0
legend.border_line_color = "#cccccc"
legend.border_line_width = 1
legend.background_fill_alpha = 0.8
lp.add_layout(legend)
panels.append(lp)

rows = [row(*panels[r * 5:(r + 1) * 5]) for r in range(5)]
layout = column(*rows)

open("out.html", "w").write(file_html(layout, INLINE))
